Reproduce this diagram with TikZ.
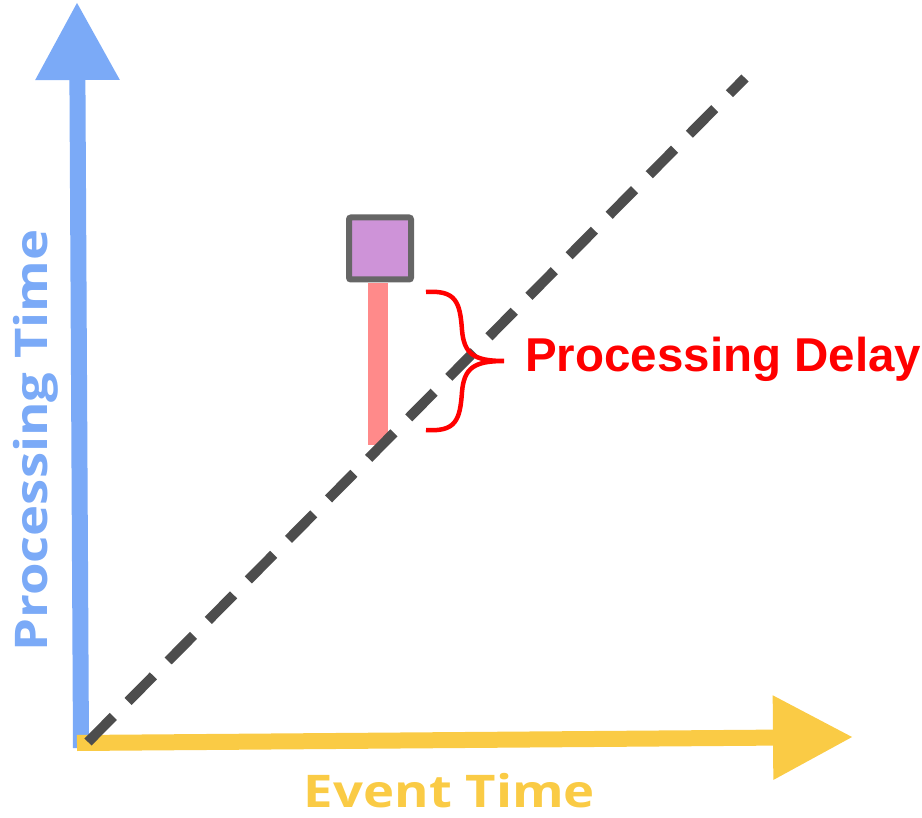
\documentclass[tikz,border=0pt]{standalone}
\usepackage{fontspec}
\usetikzlibrary{arrows.meta}
\newfontfamily\axisfont{Open Sans}[FakeStretch=1.17]
\newfontfamily\labelfont{Liberation Sans}
\definecolor{axisblue}{HTML}{7BAAF7}
\definecolor{axisyellow}{HTML}{FACB45}
\definecolor{idealgray}{HTML}{4D4D4D}
\definecolor{boxgray}{HTML}{666666}
\definecolor{eventpurple}{HTML}{CE93D8}
\definecolor{delaypink}{HTML}{FF8A8A}
\definecolor{delayred}{HTML}{FF0000}
\tikzset{
  axis/.style={line width=16pt, -{Triangle[length=78pt,width=80pt]}},
  ideal/.style={idealgray, line width=10pt, dash pattern=on 36pt off 21pt},
  eventbox/.style={draw=boxgray, fill=eventpurple, line width=6pt, rounded corners=2pt,
    minimum size=62pt, inner sep=0pt},
  delaybar/.style={fill=delaypink},
  brace/.style={delayred, line width=4.5pt},
  axislabel/.style={inner sep=0pt, font=\axisfont\bfseries\fontsize{45}{54}\selectfont},
}
\begin{document}
\begin{tikzpicture}[x=1pt, y=-1pt]
  \useasboundingbox (0,0) rectangle (922,818);

  % axes
  \coordinate (ybot) at (81,748);
  \coordinate (ytop) at (77,2);
  \coordinate (xleft) at (77,743);
  \coordinate (xright) at (853,737);
  \draw[axis, axisblue] (ybot) -- (ytop);
  \draw[axis, axisyellow, -{Triangle[length=80pt,width=80pt]}] (xleft) -- (xright);

  % delay bar under the event
  \coordinate (bartop) at (368,283);
  \coordinate (barbot) at (388,445);
  \fill[delaypink] (bartop) rectangle (barbot);

  % ideal line: event time equals processing time
  \coordinate (idealstart) at (88,742);
  \coordinate (idealend) at (745,78);
  \draw[ideal] (idealstart) -- (idealend);

  % the event
  \node[eventbox] (event) at (380,248.5) {};

  % brace and label
  \coordinate (btop) at (426,292);
  \coordinate (btip) at (504,361);
  \coordinate (bbot) at (426,430);
  \draw[brace] (btop) .. controls (456,290) and (460,302) .. (462,330)
    .. controls (464,354) and (474,361) .. (btip)
    .. controls (474,361) and (464,368) .. (462,392)
    .. controls (460,420) and (456,432) .. (bbot);
  \node[anchor=base west, inner sep=0pt, text=delayred,
    font=\labelfont\bfseries\fontsize{47.5}{56}\selectfont] (delay) at (525,372) {Processing Delay};

  % axis labels
  \node[axislabel, text=axisyellow, anchor=base] (xlabel) at (449.5,807) {Event Time};
  \node[axislabel, text=axisblue, anchor=base, rotate=90] (ylabel) at (47,440.5) {Processing Time};
\end{tikzpicture}
\end{document}
